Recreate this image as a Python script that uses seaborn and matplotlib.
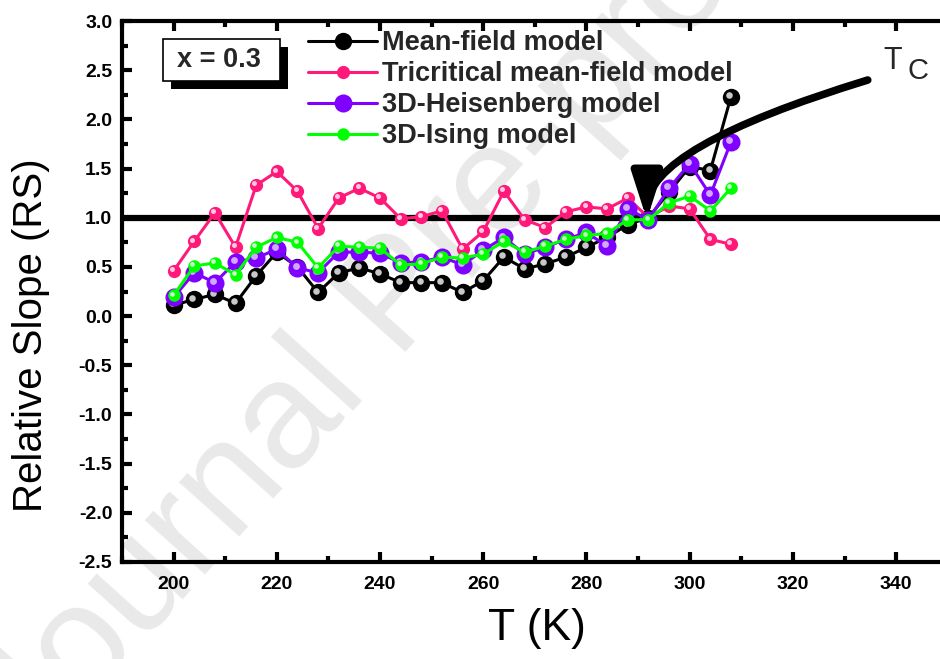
import matplotlib
matplotlib.use("Agg")
import matplotlib.pyplot as plt
import matplotlib.transforms as mtransforms
from matplotlib.patches import Rectangle
from matplotlib.ticker import MultipleLocator
import seaborn as sns

# ---------------- data ----------------
T = list(range(200, 309, 4))
mean_field = [0.11, 0.17, 0.22, 0.13, 0.41, 0.65, 0.50, 0.24, 0.44, 0.49, 0.43, 0.34, 0.34, 0.34,
              0.24, 0.36, 0.60, 0.48, 0.53, 0.60, 0.70, 0.80, 0.93, 1.00, 1.26, 1.52, 1.48, 2.23]
tricritical = [0.46, 0.76, 1.05, 0.70, 1.33, 1.47, 1.27, 0.89, 1.20, 1.30, 1.20, 0.99, 1.01, 1.07,
               0.68, 0.86, 1.27, 0.98, 0.90, 1.06, 1.11, 1.09, 1.20, 1.00, 1.12, 1.09, 0.78, 0.73]
heisenberg = [0.19, 0.44, 0.34, 0.55, 0.59, 0.68, 0.49, 0.44, 0.65, 0.65, 0.64, 0.54, 0.55, 0.60,
              0.52, 0.67, 0.80, 0.63, 0.70, 0.78, 0.85, 0.71, 1.09, 0.98, 1.30, 1.55, 1.23, 1.77]
ising = [0.21, 0.51, 0.54, 0.42, 0.70, 0.80, 0.75, 0.49, 0.71, 0.70, 0.69, 0.52, 0.53, 0.60,
         0.59, 0.63, 0.76, 0.65, 0.71, 0.78, 0.82, 0.84, 0.98, 0.98, 1.15, 1.22, 1.07, 1.30]
series_labels = ["Mean-field model", "Tricritical mean-field model",
                 "3D-Heisenberg model", "3D-Ising model"]
x_ticks = [200, 220, 240, 260, 280, 300, 320, 340]
y_ticks = [-2.5, -2.0, -1.5, -1.0, -0.5, 0.0, 0.5, 1.0, 1.5, 2.0, 2.5, 3.0]
ref_line = 1.0
Tc = 292

# ---------------- style ----------------
sns.set_theme(style="ticks")
plt.rcParams["font.family"] = ["Liberation Sans", "DejaVu Sans"]

W, H = 940, 659
fig = plt.figure(figsize=(W / 100, H / 100), dpi=100)
fig.patch.set_facecolor("white")
ax = fig.add_axes([122 / W, (H - 562) / H, (W - 122) / W, (562 - 21) / H])
ax.patch.set_alpha(0)

# watermark
fig.text(400 / W, 1 - 300 / H, "Journal Pre-proof", rotation=48, fontsize=110,
         color="#e9e9e9", ha="center", va="center", zorder=-5)

styles = [
    ("#000000", 12.5, "#c8c8c8", 2),
    ("#ff1a7a", 9.5, "#ffc8e0", 3),
    ("#7f00ff", 13.0, "#d0a8ff", 4),
    ("#00ff00", 9.0, "#c8ffc8", 5),
]
all_series = [mean_field, tricritical, heisenberg, ising]

ax.axhline(ref_line, color="black", lw=4.5, zorder=1.5)

hl_offset = mtransforms.offset_copy(ax.transData, fig=fig, x=-1.3, y=1.3, units="points")
for vals, lab, (c, ms, hc, z) in zip(all_series, series_labels, styles):
    sns.lineplot(x=T, y=vals, ax=ax, color=c, marker="o", markersize=ms,
                 markeredgecolor=c, markeredgewidth=0, linewidth=2.2,
                 label=lab, zorder=z)
    ax.plot(T, vals, ls="none", marker="o", markersize=ms * 0.38, color=hc,
            markeredgewidth=0, transform=hl_offset, zorder=z + 0.1)

# arrow to Tc
ax.annotate("", xy=(Tc - 0.3, 0.98), xytext=(334.5, 2.40),
            arrowprops=dict(arrowstyle="-|>,head_length=2.8,head_width=0.9",
                            connectionstyle="angle3,angleA=17,angleB=90",
                            lw=5.5, color="black", shrinkA=0, shrinkB=0,
                            mutation_scale=10),
            zorder=6)
fig.text(893 / W, 1 - 61 / H, "T", fontsize=22, ha="center", va="center")
fig.text(918 / W, 1 - 71 / H, "C", fontsize=21, ha="center", va="center")

# x = 0.3 box with shadow
ax.add_patch(Rectangle((171 / W, 1 - 89 / H), 117 / W, 42 / H, facecolor="black",
                       edgecolor="none", transform=fig.transFigure, clip_on=False, zorder=7))
ax.add_patch(Rectangle((163 / W, 1 - 81 / H), 117 / W, 42 / H, facecolor="white",
                       edgecolor="black", lw=1.2, transform=fig.transFigure,
                       clip_on=False, zorder=8))
fig.text(219 / W, 1 - 60 / H, "x = 0.3", fontsize=19.5, fontweight="bold",
         ha="center", va="center", zorder=9)

# legend
leg = ax.legend(loc="upper left", bbox_to_anchor=(308 / W, 1 - 30 / H),
                bbox_transform=fig.transFigure, frameon=False, fontsize=19.5,
                handlelength=2.55, handletextpad=0.2, labelspacing=0.19,
                borderpad=0, borderaxespad=0)
for t in leg.get_texts():
    t.set_fontweight("bold")

# axes
ax.set_xlim(190, 348.5)
ax.set_ylim(-2.5, 3.0)
ax.set_xticks(x_ticks)
ax.set_xticklabels([str(v) for v in x_ticks], fontsize=14, fontweight="bold")
ax.set_yticks(y_ticks)
ax.set_yticklabels([f"{v:.1f}" for v in y_ticks], fontsize=14, fontweight="bold")
ax.xaxis.set_minor_locator(MultipleLocator(10))
ax.yaxis.set_minor_locator(MultipleLocator(0.25))
ax.tick_params(which="both", direction="in", top=True, right=False, width=3,
               color="black", labelcolor="black", pad=7)
ax.tick_params(axis="x", which="both", pad=10)
ax.tick_params(which="major", length=7)
ax.tick_params(which="minor", length=4)
for s in ["left", "top", "bottom"]:
    ax.spines[s].set_linewidth(3)
    ax.spines[s].set_color("black")
ax.spines["right"].set_visible(False)

ax.set_xlabel("T (K)", fontsize=32, color="black")
ax.set_ylabel("Relative Slope (RS)", fontsize=29, color="black")
ax.xaxis.set_label_coords((537 - 122) / 818, -0.085)
ax.yaxis.set_label_coords(-0.088, 0.42)

fig.savefig("out.png", dpi=100, facecolor="white")
